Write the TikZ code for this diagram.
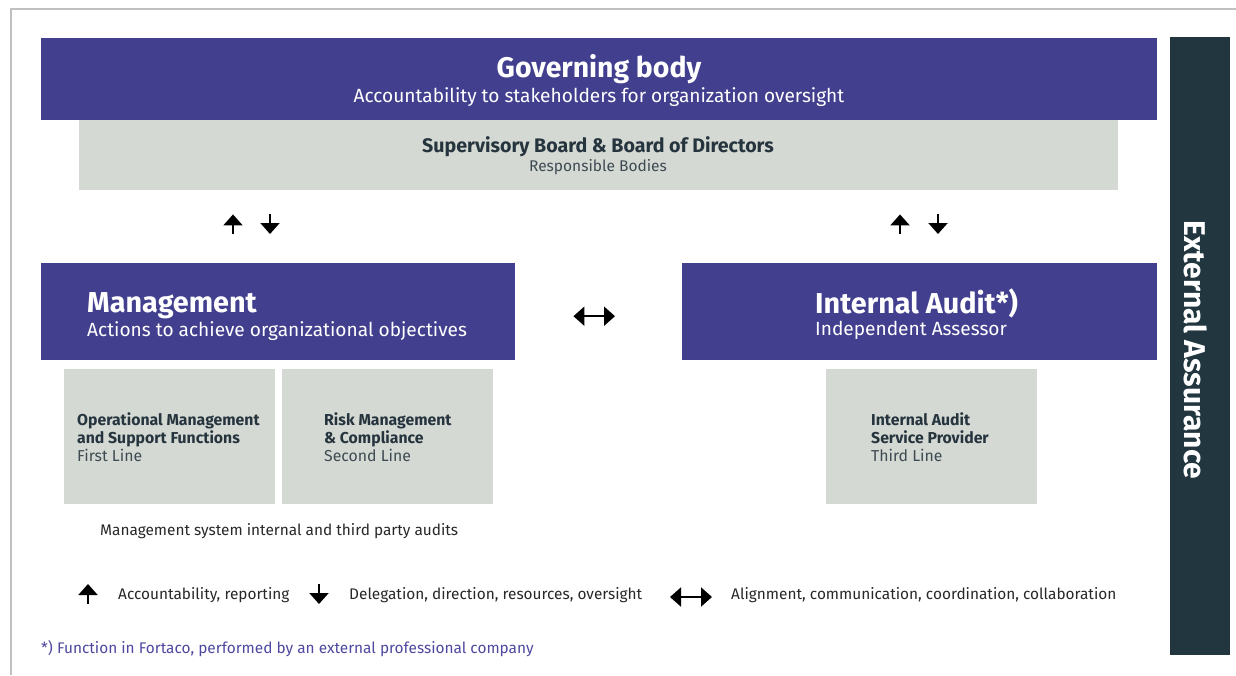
\documentclass[tikz,border=0pt]{standalone}
\usepackage{fontspec}
\setmainfont{Fira Sans}
\usetikzlibrary{positioning, arrows.meta}
\definecolor{govpurple}{RGB}{66,63,143}
\definecolor{boxgrey}{RGB}{212,217,212}
\definecolor{slate}{RGB}{38,52,62}
\definecolor{slatelight}{RGB}{62,74,82}
\definecolor{barslate}{RGB}{34,54,63}
\definecolor{framegrey}{RGB}{192,192,192}
\definecolor{notepurple}{RGB}{78,72,158}
\definecolor{keytext}{RGB}{40,40,40}
\tikzset{
  bluebox/.style={
    rectangle,
    fill=govpurple,
    anchor=north west,
    inner sep=0pt
  },
  greybox/.style={
    rectangle,
    fill=boxgrey,
    anchor=north west,
    inner sep=0pt
  },
  headtext/.style={text=white, inner sep=0pt, font=\bfseries\fontsize{28.8}{32}\selectfont},
  subtext/.style={text=white, inner sep=0pt, font=\fontsize{19.1}{22}\selectfont},
  boxhead/.style={text=slate, inner sep=0pt, anchor=base west, font=\bfseries\fontsize{15.8}{18}\selectfont},
  boxsub/.style={text=slatelight, inner sep=0pt, anchor=base west, font=\fontsize{15.8}{18}\selectfont},
  keylabel/.style={text=keytext, inner sep=0pt, anchor=base west, font=\fontsize{15.4}{18}\selectfont},
  flowarrow/.style={
    line width=2pt,
    -{Triangle[width=19pt,length=11pt]}
  },
  twoway/.style={
    line width=2pt,
    {Triangle[width=19pt,length=11pt]}-{Triangle[width=19pt,length=11pt]}
  }
}

\begin{document}
\begin{tikzpicture}[x=1pt, y=-1pt]
    \useasboundingbox (0,0) rectangle (1236,675);
    \draw[framegrey, line width=1.5pt] (11,675) -- (11,9) -- (1236,9);

    % governing body and responsible bodies
    \node[bluebox, minimum width=1116pt, minimum height=82pt] (gov) at (41,38) {};
    \node[greybox, minimum width=1039pt, minimum height=70pt] (board) at (79,120) {};
    \node[headtext, anchor=base, font=\bfseries\fontsize{28.4}{32}\selectfont] (govtitle) at (599,77) {Governing body};
    \node[subtext, anchor=base] (govsub) at (599,102) {Accountability to stakeholders for organization oversight};
    \node[boxhead, anchor=base, font=\bfseries\fontsize{19.6}{22}\selectfont] (boardtitle) at (598,152) {Supervisory Board \& Board of Directors};
    \node[boxsub, anchor=base, font=\fontsize{15.5}{18}\selectfont] (boardsub) at (598,171) {Responsible Bodies};

    % management and internal audit
    \node[bluebox, minimum width=474pt, minimum height=97pt] (mgmt) at (41,263) {};
    \node[bluebox, minimum width=475pt, minimum height=97pt] (audit) at (682,263) {};
    \node[headtext, anchor=base west] (mgmttitle) at (87,312) {Management};
    \node[subtext, anchor=base west] (mgmtsub) at (87,336) {Actions to achieve organizational objectives};
    \node[headtext, anchor=base west] (audittitle) at (815,313) {Internal Audit*)};
    \node[subtext, anchor=base west] (auditsub) at (815,335) {Independent Assessor};

    % the three lines
    \node[greybox, minimum width=211pt, minimum height=135pt] (first) at (64,369) {};
    \node[greybox, minimum width=211pt, minimum height=135pt] (second) at (282,369) {};
    \node[greybox, minimum width=211pt, minimum height=135pt] (third) at (826,369) {};
    \node[boxhead] (firstA) at (77,425) {Operational Management};
    \node[boxhead] (firstB) at (77,443) {and Support Functions};
    \node[boxsub] (firstC) at (77,461) {First Line};
    \node[boxhead] (secondA) at (324,425) {Risk Management};
    \node[boxhead] (secondB) at (324,443) {\& Compliance};
    \node[boxsub] (secondC) at (324,461) {Second Line};
    \node[boxhead] (thirdA) at (871,425) {Internal Audit};
    \node[boxhead] (thirdB) at (871,443) {Service Provider};
    \node[boxsub] (thirdC) at (871,461) {Third Line};
    \node[keylabel] (audits) at (100,535) {Management system internal and third party audits};

    % reporting lines
    \draw[flowarrow, shorten <=29pt, shorten >=24pt] ([xshift=192pt]mgmt.north west) -- ([xshift=154pt]board.south west);
    \draw[flowarrow, shorten <=24pt, shorten >=29pt] ([xshift=191pt]board.south west) -- ([xshift=229pt]mgmt.north west);
    \draw[flowarrow, shorten <=29pt, shorten >=24pt] ([xshift=218pt]audit.north west) -- ([xshift=821pt]board.south west);
    \draw[flowarrow, shorten <=24pt, shorten >=29pt] ([xshift=859pt]board.south west) -- ([xshift=256pt]audit.north west);
    \draw[twoway, shorten <=58pt, shorten >=67pt] ([yshift=-4.5pt]mgmt.east) -- ([yshift=-4.5pt]audit.west);

    % external assurance
    \node[rectangle, fill=barslate, anchor=north west, inner sep=0pt, minimum width=60pt, minimum height=618pt] (ext) at (1170,37) {};
    \node[text=white, inner sep=0pt, rotate=-90, font=\bfseries\fontsize{30}{33}\selectfont] (extlabel) at (1196,350) {External Assurance};

    % key
    \coordinate (keyupA) at (88,604);
    \coordinate (keyupB) at (88,584);
    \coordinate (keydownA) at (319,584);
    \coordinate (keydownB) at (319,604);
    \coordinate (keybothA) at (670,597);
    \coordinate (keybothB) at (712,597);
    \draw[flowarrow] (keyupA) -- (keyupB);
    \draw[flowarrow] (keydownA) -- (keydownB);
    \draw[twoway] (keybothA) -- (keybothB);
    \node[keylabel] (keyup) at (118,599) {Accountability, reporting};
    \node[keylabel] (keydown) at (349,599) {Delegation, direction, resources, oversight};
    \node[keylabel] (keyboth) at (731,599) {Alignment, communication, coordination, collaboration};
    \node[keylabel, text=notepurple] (footnote) at (41,653) {*) Function in Fortaco, performed by an external professional company};
\end{tikzpicture}
\end{document}
